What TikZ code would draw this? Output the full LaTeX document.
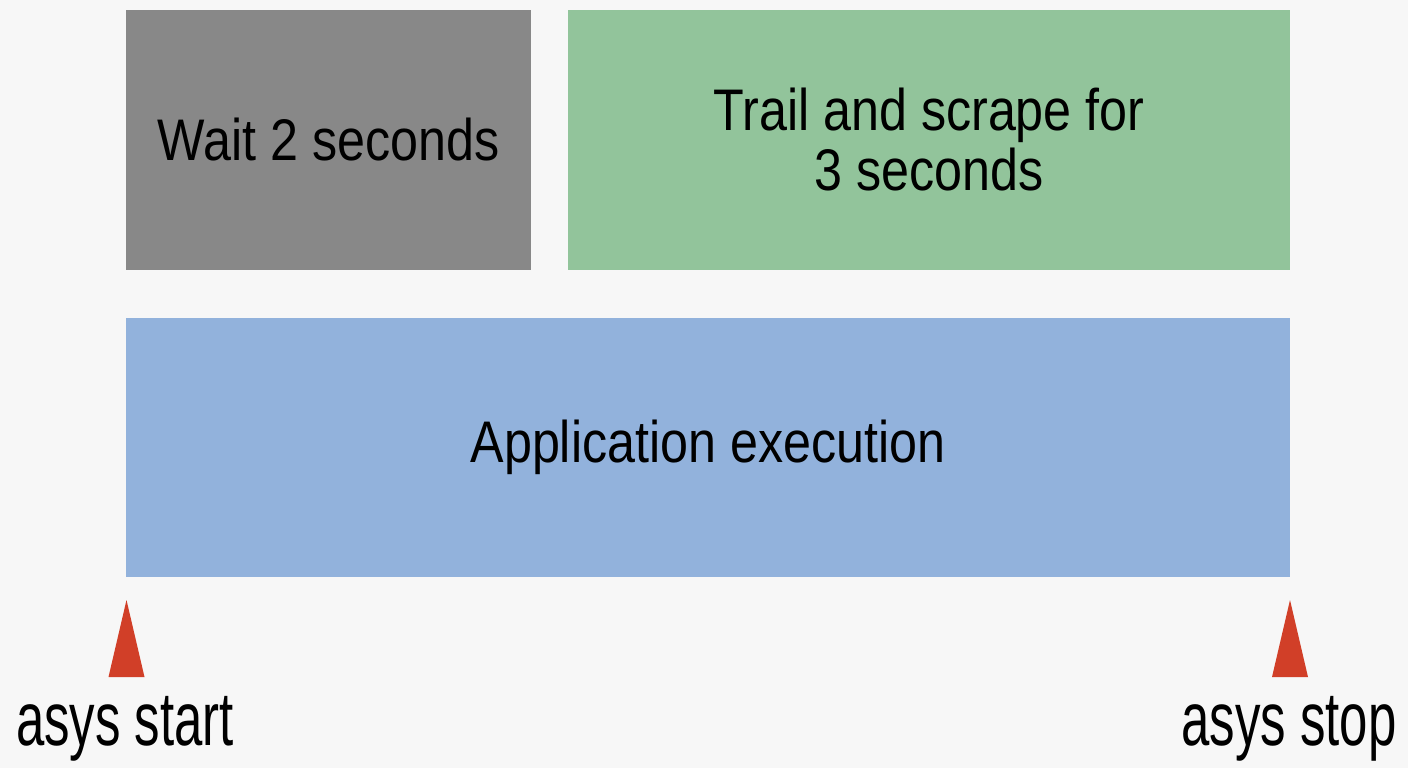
\documentclass[tikz,border=0pt]{standalone}
\usepackage{fontspec}
\usetikzlibrary{calc}
\setmainfont{Liberation Sans}
\newfontfamily\boxfont[FakeStretch=0.856]{Liberation Sans}
\newfontfamily\labfont[FakeStretch=0.67]{Liberation Sans}
\definecolor{bgc}{HTML}{F7F7F7}
\definecolor{grayc}{HTML}{888888}
\definecolor{greenc}{HTML}{92C49B}
\definecolor{bluec}{HTML}{92B2DC}
\definecolor{redc}{HTML}{D13F28}
\tikzset{
  blockbox/.style={rectangle, draw=none, inner sep=0pt, align=center, text=black,
    font=\boxfont\fontsize{58.7}{60}\selectfont},
  marker/.style={fill=redc, draw=none},
  marklabel/.style={anchor=base, inner sep=0pt, text=black, font=\labfont\fontsize{76}{80}\selectfont}
}
\begin{document}
\begin{tikzpicture}[x=1pt,y=-1pt]
\fill[bgc] (0,0) rectangle (1408,768);
\useasboundingbox (0,0) rectangle (1408,768);
\node[blockbox, fill=grayc, minimum width=405pt, minimum height=260pt] (wait) at (328.5,140) {Wait 2 seconds};
\node[blockbox, fill=greenc, minimum width=722pt, minimum height=260pt] (trail) at (929,140) {Trail and scrape for\\3 seconds};
\node[blockbox, fill=bluec, minimum width=1164pt, minimum height=259pt] (app) at (708,447.5) {Application execution};
\coordinate (s) at (126.5,600);
\coordinate (e) at (1290,600);
\fill[marker] (s) -- ($(s)+(18,77)$) -- ($(s)+(-18,77)$) -- cycle;
\fill[marker] (e) -- ($(e)+(18,77)$) -- ($(e)+(-18,77)$) -- cycle;
\node[marklabel] (startlab) at (125,745) {asys start};
\node[marklabel] (stoplab) at (1289,745) {asys stop};
\end{tikzpicture}
\end{document}
